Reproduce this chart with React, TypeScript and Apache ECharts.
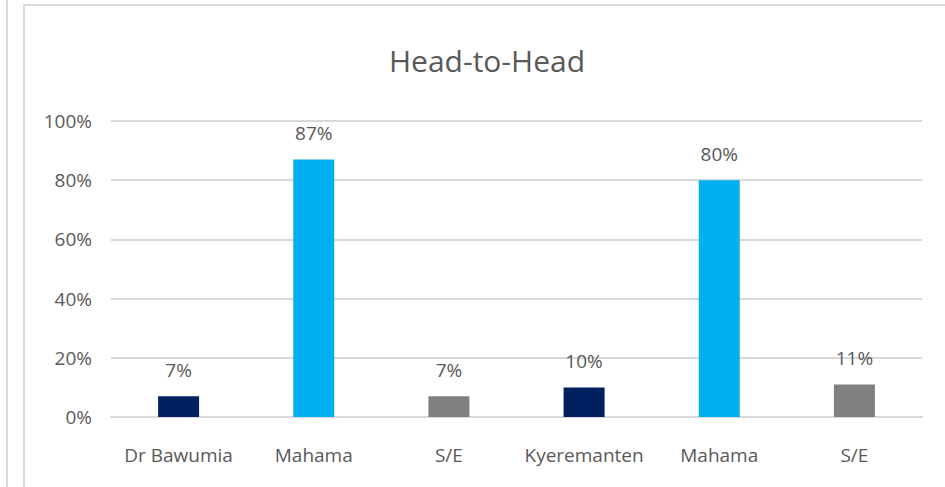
import React, { useEffect, useRef } from "react";
import * as echarts from "echarts";

const categories = ["Dr Bawumia", "Mahama", "S/E", "Kyeremanten", "Mahama", "S/E"];
const values = [7, 87, 7, 10, 80, 11];
const yTicks = [0, 20, 40, 60, 80, 100];
const palette = ["#002060", "#00b0f0", "#808080", "#002060", "#00b0f0", "#808080"];
const titleText = "Head-to-Head";

const FONT = "'Open Sans', sans-serif";

export default function App() {
  const ref = useRef<HTMLDivElement>(null);
  useEffect(() => {
    if (!ref.current) return;
    const chart = echarts.init(ref.current, null, { renderer: "svg" });
    chart.setOption({
      animation: false,
      backgroundColor: "#ffffff",
      graphic: [
        { type: "rect", shape: { x: 6, y: -2, width: 2, height: 500 }, style: { fill: "#d9d9d9" } },
        { type: "rect", shape: { x: 23, y: 4, width: 2, height: 500 }, style: { fill: "#d9d9d9" } },
        { type: "rect", shape: { x: 23, y: 4, width: 930, height: 2 }, style: { fill: "#d9d9d9" } },
        {
          type: "text",
          x: 487,
          y: 60,
          style: {
            text: titleText,
            fontFamily: FONT,
            fontSize: 30,
            fill: "#595959",
            textAlign: "center",
            textVerticalAlign: "middle",
          },
        },
      ],
      grid: { left: 111, right: 23, top: 121, bottom: 70 },
      xAxis: {
        type: "category",
        data: categories,
        axisLine: { show: true, lineStyle: { color: "#d9d9d9", width: 2 } },
        axisTick: { show: false },
        axisLabel: { fontFamily: FONT, fontSize: 19, color: "#595959", margin: 28, interval: 0 },
      },
      yAxis: {
        type: "value",
        min: yTicks[0],
        max: yTicks[yTicks.length - 1],
        interval: 20,
        axisLine: { show: false },
        axisTick: { show: false },
        splitLine: { lineStyle: { color: "#d9d9d9", width: 2 } },
        axisLabel: { fontFamily: FONT, fontSize: 19, color: "#595959", margin: 19, formatter: "{value}%" },
      },
      series: [
        {
          type: "bar",
          barWidth: 41,
          data: values.map((v, i) => ({ value: v, itemStyle: { color: palette[i] } })),
          label: {
            show: true,
            position: "top",
            distance: 17,
            formatter: "{c}%",
            fontFamily: FONT,
            fontSize: 19,
            color: "#595959",
          },
        },
      ],
    });
    return () => chart.dispose();
  }, []);
  return (
    <div
      ref={ref}
      style={{ position: "fixed", left: 0, top: 0, width: 945, height: 487 }}
    />
  );
}
